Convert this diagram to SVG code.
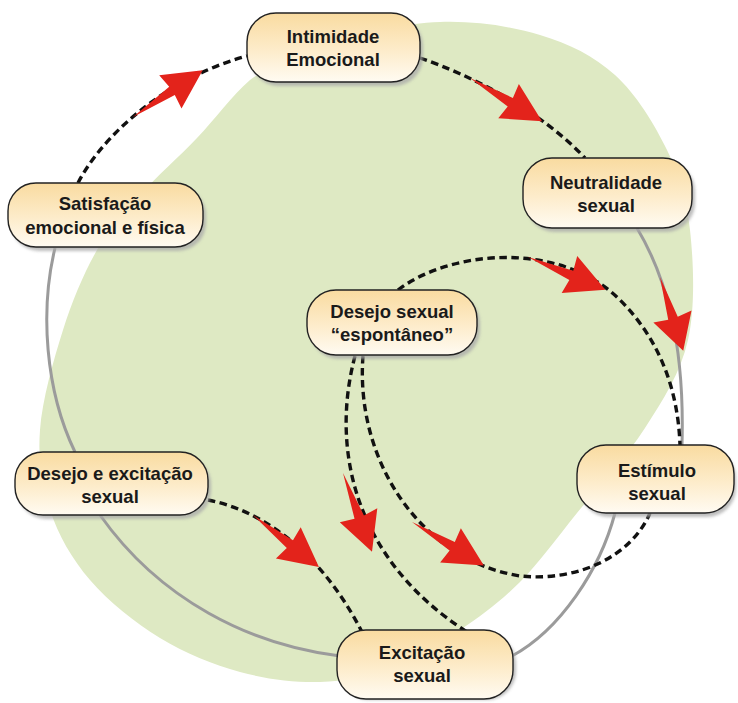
<svg xmlns="http://www.w3.org/2000/svg" xmlns:xlink="http://www.w3.org/1999/xlink" width="738" height="703" viewBox="0 0 738 703">
<defs>
<linearGradient id="ng" x1="0" y1="0" x2="0" y2="1">
<stop offset="0" stop-color="#f9dba0"/>
<stop offset="0.55" stop-color="#fdeccb"/>
<stop offset="1" stop-color="#fffbf2"/>
</linearGradient>
<filter id="sh" x="-10%" y="-10%" width="130%" height="140%">
<feGaussianBlur stdDeviation="1.6"/>
</filter>
<path id="arr" d="M0,0 L47,-5 L45,-20 L84,0 L45,20 L47,5 Z"/>
<style>
.bg{fill:#dee9c3;stroke:none}
.gray{fill:none;stroke:#9b9b9b;stroke-width:3}
.dash{fill:none;stroke:#111;stroke-width:3.4;stroke-dasharray:7.5 4.5}
.arrow{fill:#e3231b}
.box{fill:url(#ng);stroke:#222;stroke-width:1.4}
.shadow{fill:#a9a9a9;opacity:0.75;filter:url(#sh)}
.lbl{font-family:"Liberation Sans",Arial,sans-serif;font-weight:bold;font-size:18.5px;fill:#1a1a1a;text-anchor:middle}
</style>
</defs>
<rect width="738" height="703" fill="#ffffff"/>
<path class="bg" d="M 250 80 C 272.2 64, 298.3 51.7, 330 42 C 361.7 32.3, 405 23.2, 440 22 C 475 20.8, 510.8 26.2, 540 35 C 569.2 43.8, 593.8 55.8, 615 75 C 636.2 94.2, 654.5 124.2, 667 150 C 679.5 175.8, 686.5 198.3, 690 230 C 693.5 261.7, 695.5 307, 688 340 C 680.5 373, 663.5 399.2, 645 428 C 626.5 456.8, 597.8 487.3, 577 513 C 556.2 538.7, 539.5 562.5, 520 582 C 500.5 601.5, 481.7 615.7, 460 630 C 438.3 644.3, 413.3 659.3, 390 668 C 366.7 676.7, 345 681.3, 320 682 C 295 682.7, 266.7 679.3, 240 672 C 213.3 664.7, 185 653.3, 160 638 C 135 622.7, 108.3 601.3, 90 580 C 71.7 558.7, 58.3 535, 50 510 C 41.7 485, 37.8 460, 40 430 C 42.2 400, 53.5 360, 63 330 C 72.5 300, 84.2 272.5, 97 250 C 109.8 227.5, 123.3 213.7, 140 195 C 156.7 176.3, 178.7 157.2, 197 138 C 215.3 118.8, 231.7 96, 250 80 Z"/>
<g id="connectors">
<path class="gray" d="M 55 248 C 40 310, 45 390, 75 452"/>
<path class="gray" d="M 100 515 C 160 600, 250 645, 340 656"/>
<path class="gray" d="M 512 656 C 560 630, 600 570, 615 513"/>
<path class="gray" d="M 637 228 C 665 275, 685 340, 682 445"/>
<path class="dash" d="M 78 183 C 100 140, 160 80, 247 56"/>
<path class="dash" d="M 420 58 C 470 75, 540 110, 585 158"/>
<path class="dash" d="M 208 500 C 260 510, 320 550, 362 632"/>
<path class="dash" d="M 355 356 C 330 450, 355 560, 467 632"/>
<path class="dash" d="M 363 356 C 355 460, 420 560, 520 576 C 580 582, 632 555, 650 513"/>
<path class="dash" d="M 398 290 C 450 250, 560 240, 620 300 C 660 340, 678 390, 680 445"/>
<use class="arrow" xlink:href="#arr" href="#arr" transform="translate(133 117) rotate(-33.9)"/>
<use class="arrow" xlink:href="#arr" href="#arr" transform="translate(470 78) rotate(31)"/>
<use class="arrow" xlink:href="#arr" href="#arr" transform="translate(660 277) rotate(72.5) scale(0.92 1)"/>
<use class="arrow" xlink:href="#arr" href="#arr" transform="translate(253 515) rotate(38.3)"/>
<use class="arrow" xlink:href="#arr" href="#arr" transform="translate(343 473) rotate(69.8)"/>
<use class="arrow" xlink:href="#arr" href="#arr" transform="translate(412 522) rotate(31.2)"/>
<use class="arrow" xlink:href="#arr" href="#arr" transform="translate(528 257) rotate(22.9)"/>
</g>
<g id="node-intimidade">
<rect class="shadow" x="250" y="17" width="173" height="69" rx="29"/>
<rect class="box" x="247" y="13" width="173" height="69" rx="29"/>
<text class="lbl" x="333" y="43">Intimidade</text>
<text class="lbl" x="333" y="66">Emocional</text>
</g>
<g id="node-neutralidade">
<rect class="shadow" x="526" y="162" width="169" height="70" rx="29"/>
<rect class="box" x="523" y="158" width="169" height="70" rx="29"/>
<text class="lbl" x="606" y="189">Neutralidade</text>
<text class="lbl" x="606" y="212">sexual</text>
</g>
<g id="node-satisfacao">
<rect class="shadow" x="11" y="187" width="195" height="64" rx="28"/>
<rect class="box" x="8" y="183" width="195" height="64" rx="28"/>
<text class="lbl" x="105" y="210">Satisfação</text>
<text class="lbl" x="105" y="234">emocional e física</text>
</g>
<g id="node-desejo-espontaneo">
<rect class="shadow" x="310" y="294" width="170" height="65" rx="29"/>
<rect class="box" x="307" y="290" width="170" height="65" rx="29"/>
<text class="lbl" x="392" y="318">Desejo sexual</text>
<text class="lbl" x="392" y="341">“espontâneo”</text>
</g>
<g id="node-estimulo">
<rect class="shadow" x="580" y="449" width="156" height="68" rx="29"/>
<rect class="box" x="577" y="445" width="157" height="68" rx="29"/>
<text class="lbl" x="657" y="477">Estímulo</text>
<text class="lbl" x="657" y="500">sexual</text>
</g>
<g id="node-excitacao">
<rect class="shadow" x="340" y="634" width="176" height="66" rx="29"/>
<rect class="box" x="337" y="630" width="176" height="69" rx="29"/>
<text class="lbl" x="422" y="659">Excitação</text>
<text class="lbl" x="422" y="682">sexual</text>
</g>
<g id="node-desejo-excitacao">
<rect class="shadow" x="18" y="456" width="193" height="63" rx="28"/>
<rect class="box" x="15" y="452" width="193" height="63" rx="28"/>
<text class="lbl" x="110" y="480">Desejo e excitação</text>
<text class="lbl" x="110" y="503">sexual</text>
</g>
</svg>
